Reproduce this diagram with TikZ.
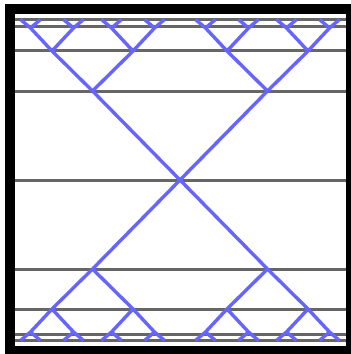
\documentclass[tikz,border=0pt]{standalone}
\usetikzlibrary{calc}
\definecolor{treeblue}{RGB}{102,102,255}
\definecolor{levelgray}{RGB}{102,102,102}
\tikzset{
  levelline/.style={draw=levelgray, line width=3pt},
  branch/.style={draw=treeblue, line width=3.4pt},
  frame/.style={draw=black, line width=10pt}
}
\begin{document}
\begin{tikzpicture}[x=1pt,y=-1pt]
\useasboundingbox (0,0) rectangle (351,354);
\fill[white] (0,0) rectangle (351,354);
% horizontal level lines
\foreach \y in {19.5,26,50.5,91,180,269,309.5,334,340.5}
  \draw[levelline] (10,\y) -- (351,\y);
% tree
\coordinate (c) at (180,180);
\foreach \v/\ya/\yb/\yc/\yd in {t/91/51/28/19.5, b/269/309/332/340.5} {
  \foreach \a/\sa in {l/-1,r/1} {
    \coordinate (\v\a) at ({180+\sa*87.5},\ya);
    \draw[branch] (c) -- (\v\a);
    \foreach \b/\sb in {l/-1,r/1} {
      \coordinate (\v\a\b) at ({180+\sa*87.5+\sb*40.5},\yb);
      \draw[branch] (\v\a) -- (\v\a\b);
      \foreach \c/\scc in {l/-1,r/1} {
        \coordinate (\v\a\b\c) at ({180+\sa*87.5+\sb*40.5+\scc*21.5},\yc);
        \draw[branch] (\v\a\b) -- (\v\a\b\c);
        \foreach \d/\sd in {l/-1,r/1} {
          \coordinate (\v\a\b\c\d) at ({180+\sa*87.5+\sb*40.5+\scc*21.5+\sd*10},\yd);
          \draw[branch] (\v\a\b\c) -- (\v\a\b\c\d);
        }
      }
    }
  }
}
% frame
\draw[frame] (10,9) rectangle (351,351);
\end{tikzpicture}
\end{document}
